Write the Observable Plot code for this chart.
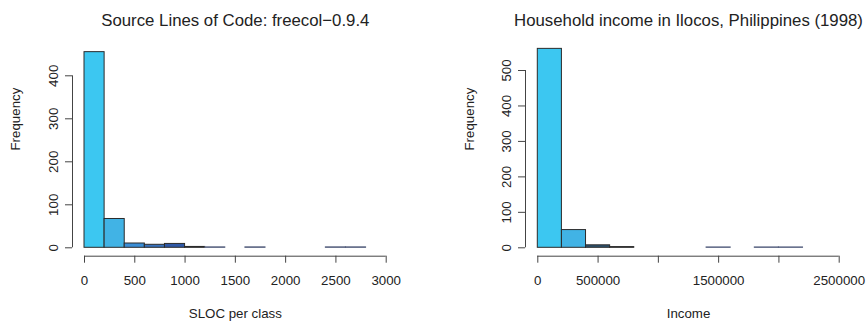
<!DOCTYPE html>
<html><head><meta charset="utf-8">
<script src="https://cdn.jsdelivr.net/npm/d3@7"></script>
<script src="https://cdn.jsdelivr.net/npm/@observablehq/plot@0.6"></script>
<style>
body{margin:0;background:#fff;}
#wrap{display:flex;width:866px;height:322px;overflow:hidden;}
#wrap svg{display:block;}
</style></head><body><div id="wrap"></div>
<script>
// ---- Panel 1: Source Lines of Code ----
const slocTitle = "Source Lines of Code: freecol\u22120.9.4";
const slocXLabel = "SLOC per class";
const slocBinStart = [0, 200, 400, 600, 800, 1000, 1200, 1400, 1600, 1800, 2000, 2200, 2400, 2600];
const slocBinEnd   = [200, 400, 600, 800, 1000, 1200, 1400, 1600, 1800, 2000, 2200, 2400, 2600, 2800];
const slocCounts   = [455, 67, 10, 7, 9, 2, 1, 0, 1, 0, 0, 0, 1, 1];
const slocColors   = ["#3cc7f1", "#41b3e5", "#3a8ed6", "#3872bd", "#2f58a6", "#1a1a1a", "#525d7c", "#525d7c", "#525d7c", "#525d7c", "#525d7c", "#525d7c", "#525d7c", "#525d7c"];
const slocXTicks   = [0, 500, 1000, 1500, 2000, 2500, 3000];
const slocXTickLabels = ["0", "500", "1000", "1500", "2000", "2500", "3000"];
const slocYTicks   = [0, 100, 200, 300, 400];

// ---- Panel 2: Household income ----
const incomeTitle = "Household income in Ilocos, Philippines (1998)";
const incomeXLabel = "Income";
const incomeBinStart = [0, 200000, 400000, 600000, 800000, 1000000, 1200000, 1400000, 1600000, 1800000, 2000000];
const incomeBinEnd   = [200000, 400000, 600000, 800000, 1000000, 1200000, 1400000, 1600000, 1800000, 2000000, 2200000];
const incomeCounts   = [561, 50, 7, 2, 0, 0, 0, 1, 0, 1, 1];
const incomeColors   = ["#3cc7f1", "#41b3e5", "#2c5370", "#1a1a1a", "#525d7c", "#525d7c", "#525d7c", "#525d7c", "#525d7c", "#525d7c", "#525d7c"];
const incomeXTicks   = [0, 500000, 1000000, 1500000, 2000000, 2500000];
const incomeXTickLabels = ["0", "500000", "", "1500000", "", "2500000"];
const incomeYTicks   = [0, 100, 200, 300, 400, 500];

const FONT = '"Liberation Sans", Arial, Helvetica, sans-serif';
const INK = "#222";
const AXIS = "#444";
const SLATE = "#525d7c";

function panel(cfg) {
  const bins = cfg.starts.map((s, i) => ({x1: s, x2: cfg.ends[i], n: cfg.counts[i], c: cfg.colors[i]}))
    .filter(d => d.n > 0);
  const xMid = (cfg.xTicks[0] + cfg.xTicks[cfg.xTicks.length - 1]) / 2;
  const insetL = cfg.insetLeft, insetB = 8.4, mb = 66.3;
  const frameMidY = (cfg.mt + (322 - mb)) / 2;
  return Plot.plot({
    width: 433, height: 322,
    marginLeft: cfg.ml, marginRight: cfg.mr, marginTop: cfg.mt, marginBottom: mb,
    style: {fontFamily: FONT, fontSize: "13.3px", color: INK, background: "white", overflow: "visible"},
    x: {domain: [cfg.xTicks[0], cfg.xTicks[cfg.xTicks.length - 1]], insetLeft: insetL, label: null},
    y: {domain: [cfg.yTicks[0], cfg.yTicks[cfg.yTicks.length - 1]], insetBottom: insetB, label: null},
    color: {type: "identity"},
    marks: [
      Plot.rectY(bins, {x1: "x1", x2: "x2", y: "n", fill: "c",
        stroke: d => d.c === SLATE ? SLATE : "#2b2b2b", strokeWidth: 1, inset: 0}),
      Plot.ruleY([0], {x1: cfg.xTicks[0], x2: cfg.xTicks[cfg.xTicks.length - 1], dy: insetB, stroke: AXIS}),
      Plot.ruleX([cfg.xTicks[0]], {y1: cfg.yTicks[0], y2: cfg.yTicks[cfg.yTicks.length - 1], dx: -insetL, stroke: AXIS}),
      Plot.axisX(cfg.xTicks, {tickSize: 7, tickPadding: 12, stroke: AXIS, fill: INK,
        tickFormat: d => cfg.xTickLabels[cfg.xTicks.indexOf(d)], label: null}),
      Plot.axisY(cfg.yTicks, {tickSize: 7, tickPadding: 8, tickRotate: -90, stroke: AXIS, fill: INK,
        tickFormat: d => String(d), label: null}),
      Plot.text([cfg.title], {x: xMid, frameAnchor: "top", dy: 20 - cfg.mt, text: d => d,
        fontSize: 16.8, fill: INK, lineAnchor: "middle"}),
      Plot.text([cfg.xLabel], {x: xMid, frameAnchor: "bottom", dy: 313 - (322 - mb), text: d => d,
        fontSize: 13.3, fill: INK, lineAnchor: "middle"}),
      Plot.text(["Frequency"], {frameAnchor: "left", dx: cfg.ylabX - cfg.ml, dy: 150 - frameMidY, rotate: -90,
        text: d => d, fontSize: 13.3, fill: INK, lineAnchor: "middle"})
    ]
  });
}

const wrap = document.getElementById("wrap");
wrap.append(panel({
  title: slocTitle, xLabel: slocXLabel,
  starts: slocBinStart, ends: slocBinEnd, counts: slocCounts, colors: slocColors,
  xTicks: slocXTicks, xTickLabels: slocXTickLabels, yTicks: slocYTicks,
  ml: 72, mr: 47.3, mt: 75.3, insetLeft: 12, ylabX: 15
}));
wrap.append(panel({
  title: incomeTitle, xLabel: incomeXLabel,
  starts: incomeBinStart, ends: incomeBinEnd, counts: incomeCounts, colors: incomeColors,
  xTicks: incomeXTicks, xTickLabels: incomeXTickLabels, yTicks: incomeYTicks,
  ml: 92, mr: 27.3, mt: 70, insetLeft: 12.3, ylabX: 469 - 433
}));
</script>
</body></html>
